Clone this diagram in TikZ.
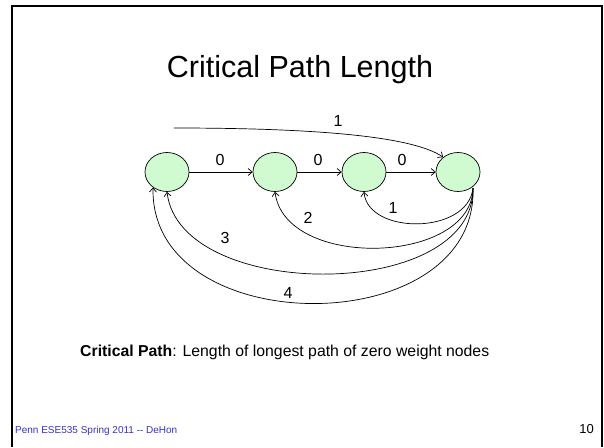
\documentclass[tikz,border=0pt]{standalone}
\usepackage{fontspec}
\setmainfont{Liberation Sans}
\usetikzlibrary{shapes.geometric,arrows.meta}
\definecolor{nodegreen}{RGB}{208,250,208}
\definecolor{footblue}{RGB}{51,51,204}
\tikzset{
  vert/.style={ellipse,draw,line width=0.7pt,fill=nodegreen,minimum width=44pt,minimum height=39pt,inner sep=0pt},
  edge/.style={line width=0.7pt,-{Straight Barb[length=4pt,width=7pt]}},
  lbl/.style={font=\fontsize{16}{16}\selectfont,inner sep=0pt},
}
\begin{document}
\begin{tikzpicture}[x=1pt,y=-1pt]
\useasboundingbox (0,0) rectangle (604,447);
\fill[white] (0,0) rectangle (604,447);
\draw[line width=2pt] (12,447) -- (12,6) -- (602,6) -- (602,447);
\node[anchor=base,inner sep=0pt,font=\fontsize{30.5}{30.5}\selectfont] (title) at (300,77) {Critical Path Length};
\node[vert] (a) at (167,172) {};
\node[vert] (b) at (275,172) {};
\node[vert] (c) at (364,172) {};
\node[vert] (d) at (458,172) {};
\draw[edge] (a) -- (b);
\draw[edge] (b) -- (c);
\draw[edge] (c) -- (d);
\node[lbl] (l0a) at (220,160) {0};
\node[lbl] (l0b) at (318,160) {0};
\node[lbl] (l0c) at (402,160) {0};
\coordinate (src) at (174,128);
\draw[edge] (src) .. controls (330,128) and (415,138) .. (d.135);
\node[lbl] (l1top) at (338,121) {1};
\coordinate (dout) at (473,188);
\draw[edge] (dout) .. controls (468,235) and (368,235) .. (c.south);
\draw[edge] (dout) .. controls (472,265) and (285,270) .. (b.south);
\draw[edge] (dout) .. controls (475,302) and (180,302) .. (a.south);
\draw[edge] (dout) .. controls (478,342) and (150,342) .. (a.228);
\node[lbl] (l1) at (393,208) {1};
\node[lbl] (l2) at (308,218) {2};
\node[lbl] (l3) at (225,238) {3};
\node[lbl] (l4) at (288,293) {4};
\node[anchor=base west,inner sep=0pt,font=\fontsize{15.8}{15.8}\selectfont] (caption) at (80,356) {\textbf{Critical Path}: Length of longest path of zero weight nodes};
\node[anchor=base west,inner sep=0pt,font=\fontsize{10}{10}\selectfont,text=footblue] (foot) at (15,433) {Penn ESE535 Spring 2011 -{}- DeHon};
\node[anchor=base east,inner sep=0pt,font=\fontsize{13}{13}\selectfont] (pg) at (594,433) {10};
\end{tikzpicture}
\end{document}
